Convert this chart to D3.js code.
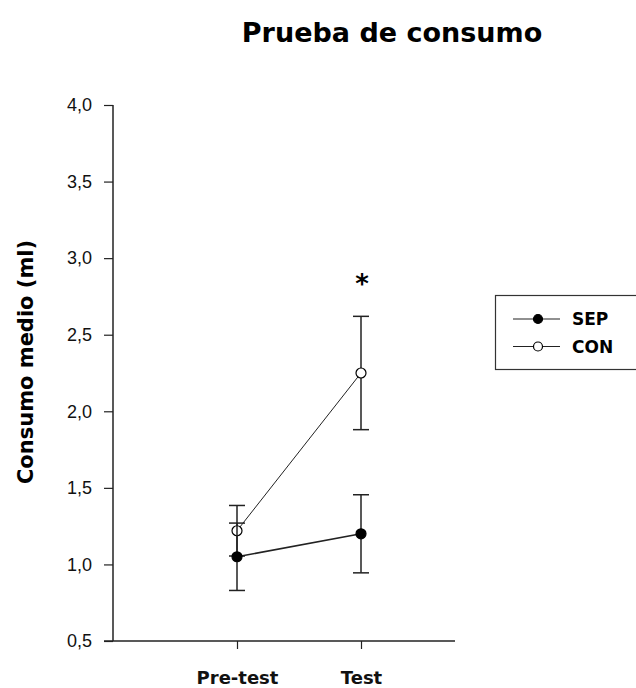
<!DOCTYPE html>
<html>
<head>
<meta charset="utf-8">
<script src="https://cdn.jsdelivr.net/npm/d3@7"></script>
<style>
  body { margin: 0; background: #fff; }
  text { font-family: "Liberation Sans", Arial, sans-serif; }
  .bold { font-family: "DejaVu Sans", sans-serif; font-weight: 700; }
</style>
</head>
<body>
<div id="chart"></div>
<script>
// data
const phases = ["Pre-test", "Test"];
const sepMean = [1.05, 1.20];
const sepErr = [0.22, 0.255];
const conMean = [1.22, 2.25];
const conErr = [0.165, 0.37];
const yTicks = [0.5, 1.0, 1.5, 2.0, 2.5, 3.0, 3.5, 4.0];
const seriesNames = ["SEP", "CON"];

const width = 636, height = 688;
const svg = d3.select("#chart").append("svg")
    .attr("width", width).attr("height", height);

const x = d3.scalePoint().domain(phases).range([237, 361]);
const y = d3.scaleLinear().domain([0.5, 4.0]).range([641, 105]);

const fmt = d => d3.format(".1f")(d).replace(".", ",");

// title
svg.append("text")
    .attr("class", "bold")
    .attr("x", 392).attr("y", 42)
    .attr("text-anchor", "middle")
    .style("font-size", "27px")
    .text("Prueba de consumo");

// y axis
const yAxis = svg.append("g")
    .attr("transform", "translate(113,0)")
    .call(d3.axisLeft(y).tickValues(yTicks).tickFormat(fmt).tickSize(9).tickPadding(12));
yAxis.select(".domain").attr("d", "M0,105V641").attr("stroke", "#222").attr("stroke-width", 1.5);
yAxis.selectAll(".tick line").attr("stroke", "#222").attr("stroke-width", 1.2);
yAxis.selectAll(".tick text").style("font-size", "18px").attr("fill", "#111")
    .attr("font-family", "'Liberation Sans', Arial, sans-serif");

// x axis
const xAxis = svg.append("g")
    .attr("transform", "translate(0,641)")
    .call(d3.axisBottom(x).tickSize(8).tickPadding(29));
xAxis.select(".domain").attr("d", "M104,0H455").attr("stroke", "#222").attr("stroke-width", 1.5);
xAxis.selectAll(".tick line").attr("stroke", "#222").attr("stroke-width", 1.2);
xAxis.selectAll(".tick text").attr("class", "bold").attr("dy", 0)
    .attr("y", 43).style("font-size", "18px").attr("fill", "#111");

// y label
svg.append("text")
    .attr("class", "bold")
    .attr("transform", "translate(33,362) rotate(-90)")
    .attr("text-anchor", "middle")
    .style("font-size", "21px")
    .text("Consumo medio (ml)");

const line = d3.line().x((d, i) => x(phases[i])).y(d => y(d));

function drawSeries(means, errs, filled, lw) {
  const g = svg.append("g");
  g.append("path")
      .datum(means)
      .attr("d", line)
      .attr("fill", "none")
      .attr("stroke", "#222")
      .attr("stroke-width", lw);
  const eb = g.selectAll(".err").data(means).enter().append("g");
  eb.append("line")
      .attr("x1", (d, i) => x(phases[i])).attr("x2", (d, i) => x(phases[i]))
      .attr("y1", (d, i) => y(d + errs[i])).attr("y2", (d, i) => y(d - errs[i]))
      .attr("stroke", "#222").attr("stroke-width", 1.5);
  [1, -1].forEach(s => {
    eb.append("line")
        .attr("x1", (d, i) => x(phases[i]) - 8).attr("x2", (d, i) => x(phases[i]) + 8)
        .attr("y1", (d, i) => y(d + s * errs[i])).attr("y2", (d, i) => y(d + s * errs[i]))
        .attr("stroke", "#222").attr("stroke-width", 1.5);
  });
  g.selectAll("circle").data(means).enter().append("circle")
      .attr("cx", (d, i) => x(phases[i])).attr("cy", d => y(d))
      .attr("r", 5)
      .attr("fill", filled ? "#000" : "#fff")
      .attr("stroke", "#000").attr("stroke-width", 1.2);
}

drawSeries(conMean, conErr, false, 1);
drawSeries(sepMean, sepErr, true, 1.6);

// significance mark
svg.append("text")
    .attr("class", "bold")
    .attr("x", x("Test") + 1).attr("y", 293)
    .attr("text-anchor", "middle")
    .style("font-size", "26px")
    .text("*");

// legend
const lg = svg.append("g");
lg.append("rect")
    .attr("x", 495.5).attr("y", 295.5)
    .attr("width", 150).attr("height", 74)
    .attr("fill", "#fff").attr("stroke", "#333").attr("stroke-width", 1.2);
const items = lg.selectAll(".item").data(seriesNames).enter().append("g")
    .attr("transform", (d, i) => `translate(0,${319 + i * 27.5})`);
items.append("line")
    .attr("x1", 513).attr("x2", 560)
    .attr("stroke", "#222").attr("stroke-width", 1.2);
items.append("circle")
    .attr("cx", 538).attr("r", 4.5)
    .attr("fill", (d, i) => i === 0 ? "#000" : "#fff")
    .attr("stroke", "#000").attr("stroke-width", 1.2);
items.append("text")
    .attr("class", "bold")
    .attr("x", 572).attr("y", 6)
    .style("font-size", "17px")
    .text(d => d);
</script>
</body>
</html>
